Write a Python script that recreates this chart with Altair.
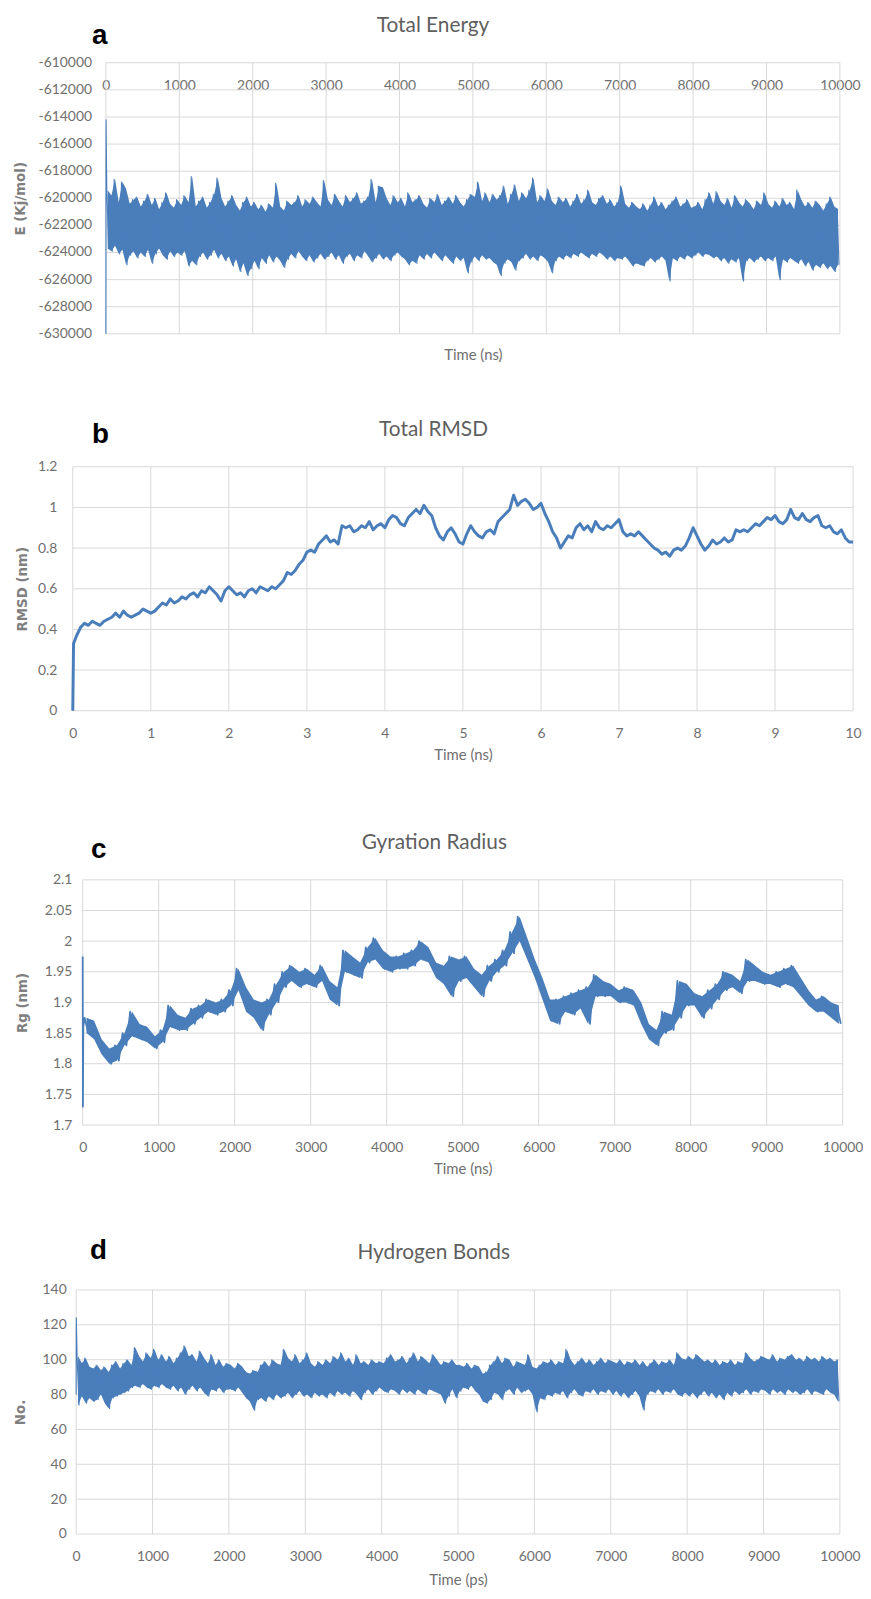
import altair as alt
import pandas as pd

# ---------------- Panel a: Total Energy (kJ/mol) ----------------
# start of the run, then upper / lower excursion of each 50-ps bin
E_START_T = [0, 2]
E_START_V = [-630000, -614200]
E_HI = [
    -619400, -619800, -618600, -620300, -618800, -619300, -620400, -620100, -619900, -620600,
    -620200, -619700, -620500, -620000, -620800, -620300, -619600, -620400, -620700, -620100,
    -620500, -619800, -620300, -618400, -620600, -620200, -619900, -620700, -620300, -619700,
    -618500, -620000, -620600, -620200, -619800, -620500, -620900, -620300, -619900, -620600,
    -620300, -620800, -620500, -621000, -620400, -620700, -618900, -620600, -620900, -620200,
    -620500, -620300, -619800, -620600, -620100, -620400, -619900, -620300, -620600, -618700,
    -620100, -620500, -619700, -620200, -620600, -619800, -620300, -620000, -619600, -620400,
    -620200, -619900, -618600, -620300, -619100, -619200, -620000, -620500, -619800, -620300,
    -620000, -620600, -619600, -620300, -620100, -619800, -620400, -620700, -620000, -620300,
    -619700, -620500, -620200, -619900, -620400, -619800, -620300, -620600, -620100, -619700,
    -619900, -618800, -620200, -619600, -620300, -619700, -620100, -619800, -619100, -620400,
    -619700, -619000, -620200, -619600, -620000, -619400, -618500, -620300, -619800, -620200,
    -619300, -620200, -620500, -619900, -620300, -620000, -620600, -620200, -619700, -620400,
    -620100, -619400, -620300, -620500, -620000, -619800, -620400, -620100, -620600, -620300,
    -619100, -620400, -620700, -620300, -620600, -620800, -620400, -620900, -620500, -619900,
    -620600, -620300, -620800, -620500, -620200, -619900, -620600, -620400, -620100, -620700,
    -620600, -620300, -620800, -620100, -619600, -620400, -619500, -620200, -620500, -620000,
    -620700, -619800, -620300, -620600, -620100, -620400, -620800, -620200, -620500, -619600,
    -620400, -620700, -620200, -620600, -620000, -620500, -620300, -620800, -619400, -620100,
    -620600, -620300, -620700, -620200, -620500, -620900, -620400, -619900, -620600, -620800,
]
E_LO = [
    -623700, -623900, -623500, -624100, -623800, -624900, -624200, -623900, -624400, -624000,
    -624300, -623800, -624800, -624100, -623700, -624200, -624500, -623900, -624300, -624000,
    -624200, -623900, -625000, -624600, -624900, -624300, -624000, -624500, -624200, -623800,
    -624400, -624100, -624600, -624300, -625000, -624500, -625400, -624800, -625700, -625200,
    -624600, -625200, -624400, -624800, -624200, -624700, -624300, -624600, -625100, -624500,
    -624100, -624400, -623900, -624300, -624600, -624200, -624700, -624400, -624100, -624500,
    -624300, -624000, -624500, -624200, -624800, -624300, -624100, -624600, -624200, -624400,
    -623900, -624300, -624700, -624400, -624100, -624500, -624300, -624600, -624200, -624000,
    -624300, -624500, -624900, -624600, -624800, -624200, -624500, -624100, -624400, -624000,
    -624300, -624600, -624200, -624500, -624800, -624300, -624600, -624400, -625500, -624700,
    -624300, -624600, -624200, -624500, -624400, -624700, -624900, -625700, -624800, -624500,
    -624700, -625300, -624600, -624400, -624100, -624500, -624300, -624600, -624200, -624400,
    -624700, -625500, -624600, -624300, -624500, -624200, -624400, -624100, -624300, -624000,
    -624200, -624400, -624100, -624300, -624000, -624200, -624500, -624300, -624600, -624400,
    -624500, -624300, -624600, -625000, -624800, -624900, -625000, -624600, -624400, -624700,
    -624500, -624300, -624600, -626100, -624400, -624600, -624300, -624500, -624200, -624400,
    -624200, -624000, -624300, -624100, -624200, -624400, -624300, -624600, -624400, -624800,
    -624500, -624700, -624400, -626100, -624600, -624400, -624700, -624500, -624300, -624600,
    -624400, -624600, -624300, -626000, -624500, -624700, -624400, -624600, -624800, -624500,
    -625000, -624700, -625300, -624900, -625100, -624800, -625200, -625000, -625400, -624900,
]

# ---------------- Panel b: Total RMSD (nm), every 0.05 ns ----------------
RMSD_START_T = [0.0, 0.01, 0.03]
RMSD_START_V = [0.0, 0.33, 0.35]
RMSD = [
    0.37, 0.41, 0.43, 0.42, 0.44, 0.43, 0.42, 0.44, 0.45, 0.46, 0.48, 0.46, 0.49, 0.47, 0.46, 0.47, 0.48, 0.50, 0.49, 0.48,
    0.49, 0.51, 0.53, 0.52, 0.55, 0.53, 0.54, 0.56, 0.55, 0.57, 0.58, 0.56, 0.59, 0.58, 0.61, 0.59, 0.57, 0.54, 0.59, 0.61,
    0.59, 0.57, 0.58, 0.56, 0.59, 0.60, 0.58, 0.61, 0.60, 0.59, 0.61, 0.60, 0.62, 0.64, 0.68, 0.67, 0.69, 0.72, 0.74, 0.78,
    0.79, 0.78, 0.82, 0.84, 0.86, 0.83, 0.84, 0.82, 0.91, 0.90, 0.91, 0.88, 0.89, 0.91, 0.90, 0.93, 0.89, 0.91, 0.92, 0.90,
    0.94, 0.96, 0.95, 0.92, 0.91, 0.95, 0.97, 0.99, 0.97, 1.01, 0.98, 0.96, 0.90, 0.86, 0.84, 0.88, 0.90, 0.87, 0.83, 0.82,
    0.87, 0.91, 0.88, 0.86, 0.85, 0.88, 0.89, 0.87, 0.93, 0.95, 0.97, 0.99, 1.06, 1.01, 1.03, 1.04, 1.02, 0.99, 1.00, 1.02,
    0.97, 0.93, 0.88, 0.85, 0.80, 0.83, 0.86, 0.85, 0.90, 0.92, 0.89, 0.91, 0.88, 0.93, 0.90, 0.89, 0.91, 0.90, 0.92, 0.94,
    0.88, 0.86, 0.87, 0.86, 0.88, 0.86, 0.84, 0.82, 0.80, 0.79, 0.77, 0.78, 0.76, 0.79, 0.80, 0.79, 0.81, 0.85, 0.90, 0.86,
    0.82, 0.79, 0.81, 0.84, 0.82, 0.83, 0.85, 0.83, 0.84, 0.89, 0.88, 0.89, 0.88, 0.90, 0.92, 0.91, 0.93, 0.95, 0.94, 0.96,
    0.93, 0.92, 0.94, 0.99, 0.95, 0.94, 0.97, 0.94, 0.93, 0.95, 0.96, 0.91, 0.90, 0.91, 0.88, 0.87, 0.89, 0.85, 0.83, 0.83,
]

# ---------------- Panel c: Gyration radius (nm), 100-ps bins ----------------
RG_START_T = [0, 3, 8]
RG_START_V = [1.975, 1.73, 1.86]
RG_HI = [
    1.875, 1.87, 1.84, 1.825, 1.83, 1.85, 1.885, 1.865, 1.86, 1.845,
    1.855, 1.895, 1.88, 1.875, 1.89, 1.895, 1.905, 1.90, 1.905, 1.92,
    1.955, 1.925, 1.905, 1.90, 1.905, 1.93, 1.95, 1.96, 1.95, 1.955,
    1.945, 1.96, 1.935, 1.925, 1.985, 1.975, 1.965, 1.99, 2.005, 1.985,
    1.975, 1.975, 1.98, 1.985, 2.00, 1.99, 1.965, 1.96, 1.975, 1.97,
    1.975, 1.955, 1.945, 1.96, 1.97, 1.985, 2.015, 2.04, 2.005, 1.97,
    1.94, 1.905, 1.905, 1.91, 1.915, 1.92, 1.925, 1.945, 1.935, 1.93,
    1.92, 1.925, 1.92, 1.90, 1.865, 1.855, 1.885, 1.88, 1.935, 1.93,
    1.915, 1.91, 1.92, 1.93, 1.95, 1.945, 1.935, 1.97, 1.96, 1.95,
    1.945, 1.95, 1.955, 1.96, 1.94, 1.92, 1.905, 1.91, 1.90, 1.895,
]
RG_LO = [
    1.85, 1.84, 1.815, 1.80, 1.805, 1.83, 1.845, 1.84, 1.835, 1.825,
    1.835, 1.86, 1.855, 1.855, 1.865, 1.875, 1.885, 1.88, 1.885, 1.895,
    1.92, 1.885, 1.875, 1.855, 1.88, 1.90, 1.925, 1.935, 1.925, 1.93,
    1.925, 1.935, 1.905, 1.895, 1.95, 1.945, 1.94, 1.965, 1.97, 1.955,
    1.95, 1.955, 1.955, 1.96, 1.97, 1.965, 1.94, 1.93, 1.91, 1.935,
    1.94, 1.925, 1.91, 1.935, 1.95, 1.96, 1.98, 2.00, 1.97, 1.94,
    1.905, 1.87, 1.865, 1.885, 1.88, 1.89, 1.865, 1.91, 1.91, 1.91,
    1.90, 1.90, 1.895, 1.865, 1.84, 1.83, 1.85, 1.855, 1.875, 1.895,
    1.895, 1.875, 1.89, 1.905, 1.92, 1.925, 1.915, 1.935, 1.935, 1.93,
    1.93, 1.925, 1.93, 1.925, 1.91, 1.895, 1.885, 1.885, 1.875, 1.865,
]

# ---------------- Panel d: Hydrogen bonds (count), 50-ps bins ----------------
HB_START_T = [0, 2]
HB_START_V = [80, 124]
HB_HI = [
    102, 98, 101, 96, 95, 97, 94, 96, 93, 97, 99, 95, 98, 100, 97, 107, 102, 99, 104, 101,
    106, 100, 103, 99, 102, 98, 101, 104, 108, 102, 103, 99, 105, 101, 98, 103, 97, 100, 96, 98,
    97, 95, 98, 96, 93, 92, 94, 93, 97, 99, 96, 100, 98, 97, 106, 101, 99, 103, 98, 100,
    104, 98, 96, 99, 97, 100, 98, 102, 100, 104, 99, 101, 97, 103, 98, 99, 97, 100, 98, 99,
    98, 101, 103, 99, 100, 102, 98, 101, 104, 99, 102, 100, 98, 103, 100, 97, 99, 98, 100, 97,
    97, 96, 98, 95, 97, 96, 92, 93, 97, 99, 102, 98, 101, 100, 96, 99, 98, 97, 103, 96,
    95, 97, 99, 98, 100, 97, 99, 98, 106, 100, 97, 99, 101, 98, 100, 97, 99, 101, 98, 100,
    99, 98, 100, 97, 99, 98, 100, 97, 99, 96, 98, 100, 97, 99, 98, 100, 97, 104, 101, 100,
    102, 100, 103, 101, 99, 100, 98, 100, 97, 99, 98, 100, 97, 99, 98, 104, 101, 99, 100, 102,
    101, 100, 103, 99, 101, 100, 102, 103, 100, 101, 99, 102, 100, 101, 99, 102, 100, 101, 99, 100,
]
HB_LO = [
    74, 79, 75, 78, 76, 77, 80, 75, 72, 78, 79, 80, 81, 82, 84, 85, 84, 86, 84, 83,
    85, 84, 86, 84, 83, 85, 82, 84, 80, 83, 85, 82, 84, 81, 79, 83, 82, 84, 81, 83,
    83, 82, 84, 81, 78, 76, 71, 77, 78, 76, 79, 77, 80, 78, 79, 81, 78, 80, 82, 79,
    80, 78, 81, 79, 80, 78, 81, 79, 82, 80, 81, 79, 82, 80, 77, 81, 83, 80, 82, 84,
    82, 81, 83, 82, 80, 83, 81, 82, 80, 83, 81, 80, 83, 82, 81, 80, 75, 79, 83, 78,
    82, 84, 83, 85, 82, 80, 76, 75, 77, 81, 80, 77, 82, 83, 80, 84, 81, 82, 83, 80,
    70, 78, 77, 80, 79, 81, 80, 82, 78, 81, 83, 80, 79, 82, 81, 83, 80, 82, 81, 83,
    80, 82, 79, 81, 78, 80, 82, 79, 71, 80, 82, 81, 83, 80, 82, 81, 83, 80, 79, 81,
    79, 81, 78, 80, 82, 79, 81, 78, 80, 77, 81, 79, 82, 80, 81, 83, 80, 82, 81, 83,
    82, 80, 83, 81, 82, 80, 83, 81, 82, 80, 81, 83, 80, 82, 81, 80, 83, 81, 80, 76,
]

# ---------------- axis ticks ----------------
TICKS_T10000 = [0, 1000, 2000, 3000, 4000, 5000, 6000, 7000, 8000, 9000, 10000]
TICKS_T10 = [0, 1, 2, 3, 4, 5, 6, 7, 8, 9, 10]
TICKS_E = [-630000, -628000, -626000, -624000, -622000, -620000, -618000, -616000, -614000, -612000, -610000]
TICKS_RMSD = [0, 0.2, 0.4, 0.6, 0.8, 1, 1.2]
TICKS_RG = [1.7, 1.75, 1.8, 1.85, 1.9, 1.95, 2, 2.05, 2.1]
TICKS_HB = [0, 20, 40, 60, 80, 100, 120, 140]


def zigzag(hi, lo, step):
    ts, vs = [], []
    for i, (h, l) in enumerate(zip(hi, lo)):
        ts += [i * step + step * 0.25, i * step + step * 0.75]
        vs += [h, l]
    return ts, vs


def band(hi, lo, step):
    return pd.DataFrame({"t": [i * step + step * 0.5 for i in range(len(hi))],
                         "hi": hi, "lo": lo})


ta, va = zigzag(E_HI, E_LO, 50)
df_a = pd.DataFrame({"t": E_START_T + ta, "v": E_START_V + va})
tb = [round(0.05 * (i + 1), 2) for i in range(len(RMSD))]
df_b = pd.DataFrame({"t": RMSD_START_T + tb, "v": RMSD_START_V + RMSD})
tc, vc = zigzag(RG_HI, RG_LO, 100)
df_c = pd.DataFrame({"t": RG_START_T + tc, "v": RG_START_V + vc})
td, vd = zigzag(HB_HI, HB_LO, 50)
df_d = pd.DataFrame({"t": HB_START_T + td, "v": HB_START_V + vd})

BLUE = "#4a7ebb"
GRID = "#d9d9d9"
LAB = "#6f6f6f"
W = 852


def panel(df, xdom, xticks, ydom, yticks, H, xr, yr, x_top, xoff, xlabpad,
          xtitle, xtitle_y, yoff, ylabpad, ytitle, ytitle_x,
          title, title_xy, letter, letter_xy, sw, ylab_text=False, band_df=None):
    common = dict(grid=False, domain=False, ticks=False, tickSize=0,
                  labelFont="Lato", labelFontSize=14, labelColor=LAB,
                  labelOverlap=False, labelFlush=False,
                  labelExpr="'' + datum.value")
    xa = alt.Axis(values=xticks, orient="top" if x_top else "bottom", offset=xoff,
                  labelPadding=xlabpad, labelBaseline="top",
                  title=xtitle, titleY=xtitle_y, titleBaseline="middle", titleAngle=0,
                  titleFont="Lato", titleFontSize=15, titleFontWeight="normal",
                  titleColor=LAB, **common)
    ya = alt.Axis(values=yticks, orient="left", offset=yoff, labelPadding=ylabpad,
                  labels=not ylab_text,
                  title=ytitle, titleX=ytitle_x, titleBaseline="middle", titleAngle=270,
                  titleFont="DejaVu Sans", titleFontSize=13.5, titleFontWeight="bold",
                  titleColor="#7f7f7f", **common)
    xs = alt.Scale(domain=xdom, range=xr, nice=False, zero=False)
    ys = alt.Scale(domain=ydom, range=yr, nice=False, zero=False)

    gx = alt.Chart(pd.DataFrame({"t": xticks})).mark_rule(color=GRID, strokeWidth=1).encode(
        x=alt.X("t:Q", scale=xs), y=alt.datum(ydom[0]), y2=alt.datum(ydom[1]))
    gy = alt.Chart(pd.DataFrame({"v": yticks})).mark_rule(color=GRID, strokeWidth=1).encode(
        y=alt.Y("v:Q", scale=ys), x=alt.datum(xdom[0]), x2=alt.datum(xdom[1]))
    layers = [gx, gy]
    if band_df is not None:
        area = alt.Chart(band_df).mark_area(color=BLUE, opacity=1).encode(
            x=alt.X("t:Q", scale=xs), y=alt.Y("hi:Q", scale=ys), y2="lo:Q")
        layers.append(area)
    line = alt.Chart(df).mark_line(color=BLUE, strokeWidth=sw, strokeJoin="round").encode(
        x=alt.X("t:Q", scale=xs, axis=xa), y=alt.Y("v:Q", scale=ys, axis=ya))
    ttl = alt.Chart(pd.DataFrame({"s": [title]})).mark_text(
        font="Lato", fontSize=21, color="#5f5f5f", align="center", baseline="middle").encode(
        text="s:N", x=alt.value(title_xy[0]), y=alt.value(title_xy[1]))
    let = alt.Chart(pd.DataFrame({"s": [letter]})).mark_text(
        font="Liberation Sans", fontSize=28, fontWeight="bold", color="#000000",
        align="left", baseline="alphabetic").encode(
        text="s:N", x=alt.value(letter_xy[0]), y=alt.value(letter_xy[1]))
    layers += [line, ttl, let]
    if ylab_text:
        ylabs = alt.Chart(pd.DataFrame({"v": yticks, "lab": [str(v) for v in yticks]})).mark_text(
            font="Lato", fontSize=14, color=LAB, align="right", baseline="middle").encode(
            y=alt.Y("v:Q", scale=ys), x=alt.value(xr[0] - ylabpad), text="lab:N")
        layers.append(ylabs)
    return alt.layer(*layers).properties(width=W, height=H)


pa = panel(df_a, [0, 10000], TICKS_T10000, [-630000, -610000], TICKS_E, 392,
           [98.7, 838.7], [322, 48.7], True, -48.7, -15.6,
           "Time (ns)", 294.3, -98.7, 14, "E (Kj/mol)", -85.9,
           "Total Energy", (428.5, 11.8), "a", (84.8, 30.3), 1.1, ylab_text=True,
           band_df=band(E_HI, E_LO, 50))
pb = panel(df_b, [0, 10], TICKS_T10, [0, 1.2], TICKS_RMSD, 420,
           [65.3, 852], [310, 64], False, -110, 15.6,
           "Time (ns)", 44, -65.3, 16, "RMSD (nm)", -51.1,
           "Total RMSD", (429, 27.3), "b", (84.7, 40), 3.0)
pc = panel(df_c, [0, 10000], TICKS_T10000, [1.7, 2.1], TICKS_RG, 410,
           [75.3, 841.5], [307.7, 60.5], False, -102.3, 15.6,
           "Time (ns)", 44, -75.3, 11, "Rg (nm)", -61.1,
           "Gyration Radius", (429.8, 23), "c", (83.6, 38.2), 1.8,
           band_df=band(RG_HI, RG_LO, 100))
pd_ = panel(df_d, [0, 10000], TICKS_T10000, [0, 140], TICKS_HB, 361,
            [68.7, 838.7], [310, 64], False, -51, 15.6,
            "Time (ps)", 46.3, -68.7, 10, "No.", -55.7,
            "Hydrogen Bonds", (429.2, 26.3), "d", (82.6, 32.3), 1.1,
            band_df=band(HB_HI, HB_LO, 50))

chart = alt.vconcat(pa, pb, pc, pd_, spacing=0, bounds="flush").properties(
    padding=0
).configure(font="Lato").configure_view(strokeWidth=0, stroke="transparent")

chart.save("out.html", embed_options={"renderer": "svg", "actions": False})
